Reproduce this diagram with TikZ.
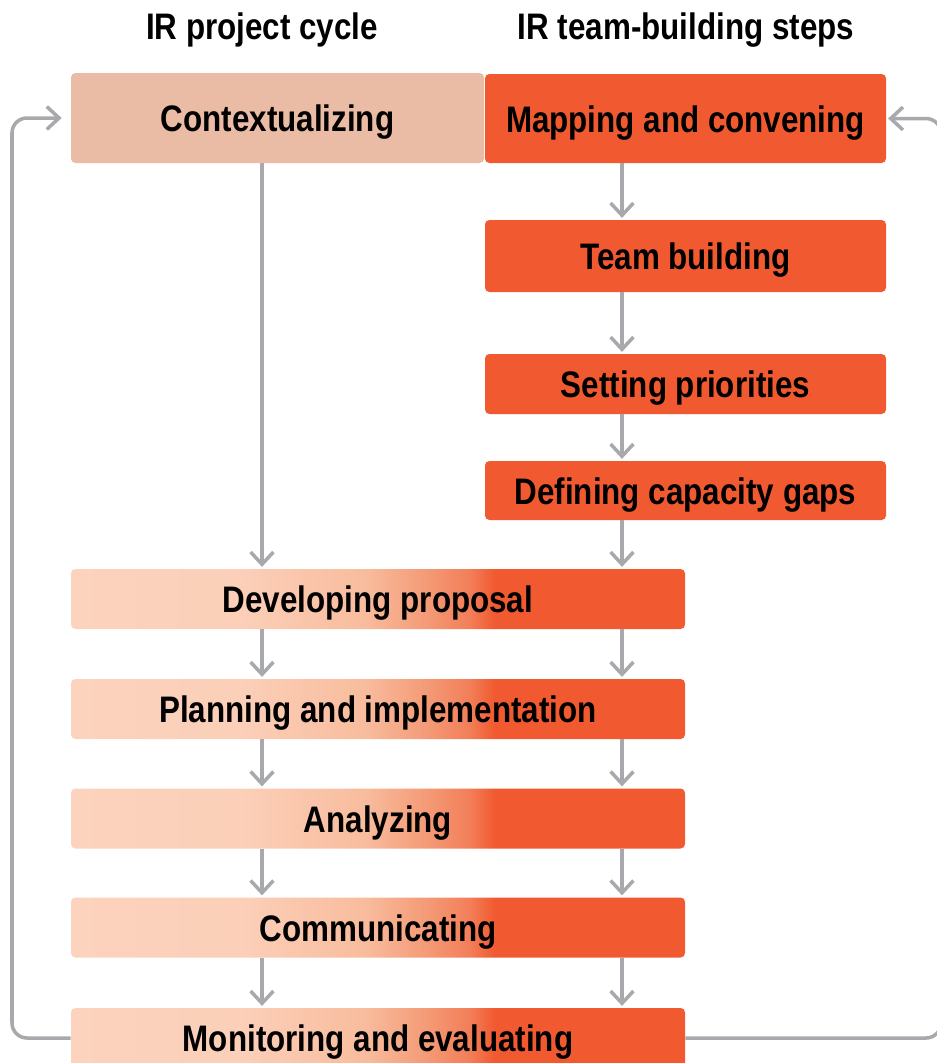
\documentclass[tikz,border=0pt]{standalone}
\usepackage{fontspec}
\setmainfont{Liberation Sans}[FakeStretch=0.85]
\usetikzlibrary{arrows.meta}
\definecolor{irorange}{HTML}{F15A30}
\definecolor{irpeach}{HTML}{EBBCA5}
\definecolor{irgray}{HTML}{A7A9AC}
\definecolor{fadea}{HTML}{FCD3BE}
\definecolor{fadeb}{HTML}{FBCFB8}
\definecolor{fadec}{HTML}{F8BC9D}
\definecolor{faded}{HTML}{F49A76}
\definecolor{fadee}{HTML}{F27E58}
\pgfdeclarehorizontalshading{irfade}{100bp}{color(0bp)=(fadea); color(25bp)=(fadea); color(39bp)=(fadeb); color(49bp)=(fadec); color(54bp)=(faded); color(57.5bp)=(fadee); color(59.5bp)=(irorange); color(100bp)=(irorange)}
\begin{document}
\begin{tikzpicture}[>={Straight Barb[length=7pt,width=13pt]},
  link/.style={draw=irgray,line width=2pt},
  label/.style={font=\fontsize{21}{25}\selectfont\bfseries,text depth=0.16cm},
  stepbox/.style={label,text height=0.70cm,rounded corners=2.5pt,inner sep=0pt},
  teambox/.style={stepbox,fill=irorange,minimum width=8.02cm},
  cyclebox/.style={stepbox,shading=irfade,minimum width=12.28cm,minimum height=1.2cm}]
\useasboundingbox (0,0) rectangle (18.74,-21.26);
\clip (0,0) rectangle (18.74,-21.26);
\node[label,text height=0.66cm] (hl) at (5.24,-0.54) {IR project cycle};
\node[label,text height=0.66cm] (hr) at (13.72,-0.54) {IR team-building steps};
\node[stepbox,fill=irpeach,minimum width=8.26cm,minimum height=1.8cm] (ctx) at (5.55,-2.36) {Contextualizing};
\node[teambox,minimum height=1.78cm] (map) at (13.71,-2.37) {Mapping and convening};
\node[teambox,minimum height=1.44cm] (team) at (13.71,-5.12) {Team building};
\node[teambox,minimum height=1.2cm] (prio) at (13.71,-7.68) {Setting priorities};
\node[teambox,minimum height=1.18cm] (gaps) at (13.71,-9.81) {Defining capacity gaps};
\node[cyclebox] (dev) at (7.56,-11.98) {Developing proposal};
\node[cyclebox] (plan) at (7.56,-14.18) {Planning and implementation};
\node[cyclebox] (ana) at (7.56,-16.37) {Analyzing};
\node[cyclebox] (com) at (7.56,-18.55) {Communicating};
\node[cyclebox] (mon) at (7.56,-20.76) {Monitoring and evaluating};
\coordinate (lc) at (5.24,0);
\coordinate (rc) at (12.44,0);
\draw[link,->,shorten >=1pt] (ctx.south -| lc) -- (dev.north -| lc);
\foreach \a/\b in {map/team,team/prio,prio/gaps,gaps/dev}
  \draw[link,->,shorten >=1pt] (\a.south -| rc) -- (\b.north -| rc);
\foreach \a/\b in {dev/plan,plan/ana,ana/com,com/mon}{
  \draw[link,->,shorten >=1pt] (\a.south -| lc) -- (\b.north -| lc);
  \draw[link,->,shorten >=1pt] (\a.south -| rc) -- (\b.north -| rc);
}
\draw[link,->,rounded corners=0.3cm,shorten >=0.18cm] (mon.west) -| (0.24,-2.36) -- (ctx.west);
\draw[link,->,rounded corners=0.3cm,shorten >=1pt] (mon.east) -| (18.82,-2.37) -- (map.east);
\end{tikzpicture}
\end{document}
